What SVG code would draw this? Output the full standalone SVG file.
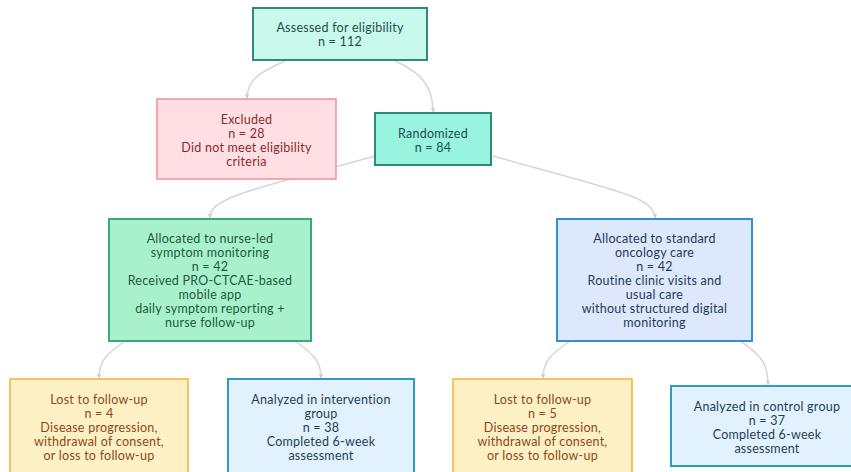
<svg xmlns="http://www.w3.org/2000/svg" width="851" height="472" viewBox="0 0 851 472">
<style>
text{font-family:"Lato","Open Sans","DejaVu Sans",sans-serif;font-size:12.5px;letter-spacing:0.25px;text-anchor:middle}
.e{fill:none;stroke:#d6d6d6;stroke-width:1.5;marker-end:url(#ah)}
.teal rect{fill:#c9f9ec;stroke:#2e8b7c;stroke-width:2}
.teal text{fill:#1f4f4a}
.rand rect{fill:#98f3df;stroke:#2e8b7c;stroke-width:2}
.rand text{fill:#1f4f4a}
.excl rect{fill:#ffdfe3;stroke:#f0909a;stroke-width:1.5}
.excl text{fill:#8b2c2c}
.nurse rect{fill:#a9f1cd;stroke:#3aaa78;stroke-width:2}
.nurse text{fill:#1e5a3c}
.std rect{fill:#dde8fc;stroke:#2f90d8;stroke-width:2}
.std text{fill:#1f3a5a}
.lost rect{fill:#fdf0c4;stroke:#f5b236;stroke-width:1.5}
.lost text{fill:#8a4a1c}
.an rect{fill:#e1f1fd;stroke:#2e9cbc;stroke-width:2}
.an text{fill:#1f3f55}
</style>
<defs>
<marker id="ah" viewBox="0 0 10 10" refX="9" refY="5" markerWidth="5" markerHeight="5" orient="auto-start-reverse" markerUnits="userSpaceOnUse">
<path d="M0,0 L10,5 L0,10 z" fill="#d0d0d0"/>
</marker>
</defs>
<g id="connectors">
<path class="e" d="M285,61 C260,72 247,80 247,98"/>
<path class="e" d="M395,61 C420,72 433,85 433,112"/>
<path class="e" d="M375,156 C320,172 260,185 230,198 C215,205 210,210 210,218"/>
<path class="e" d="M493,156 C560,175 620,190 640,200 C652,207 655,212 655,218"/>
<path class="e" d="M125,341 C105,355 99,362 99,378"/>
<path class="e" d="M295,341 C315,355 321,362 321,378"/>
<path class="e" d="M570,341 C550,355 543,362 543,378"/>
<path class="e" d="M740,341 C762,355 768,365 768,385"/>
</g>
<g id="assessed" class="teal">
<rect x="253" y="8" width="174" height="52"/>
<text x="340" y="32">Assessed for eligibility</text>
<text x="340" y="46">n = 112</text>
</g>
<g id="excluded" class="excl">
<rect x="157" y="99" width="179" height="80"/>
<text x="246.5" y="124">Excluded</text>
<text x="246.5" y="138">n = 28</text>
<text x="246.5" y="152">Did not meet eligibility</text>
<text x="246.5" y="166">criteria</text>
</g>
<g id="randomized" class="rand">
<rect x="375" y="113" width="116" height="52"/>
<text x="433" y="138">Randomized</text>
<text x="433" y="152">n = 84</text>
</g>
<g id="nurse" class="nurse">
<rect x="109" y="219" width="202" height="122"/>
<text x="210" y="243">Allocated to nurse-led</text>
<text x="210" y="257">symptom monitoring</text>
<text x="210" y="271">n = 42</text>
<text x="210" y="285">Received PRO-CTCAE-based</text>
<text x="210" y="299">mobile app</text>
<text x="210" y="313">daily symptom reporting +</text>
<text x="210" y="327">nurse follow-up</text>
</g>
<g id="standard" class="std">
<rect x="557" y="219" width="195" height="122"/>
<text x="654.5" y="243">Allocated to standard</text>
<text x="654.5" y="257">oncology care</text>
<text x="654.5" y="271">n = 42</text>
<text x="654.5" y="285">Routine clinic visits and</text>
<text x="654.5" y="299">usual care</text>
<text x="654.5" y="313">without structured digital</text>
<text x="654.5" y="327">monitoring</text>
</g>
<g id="lost1" class="lost">
<rect x="10" y="379" width="178" height="110"/>
<text x="99" y="404">Lost to follow-up</text>
<text x="99" y="418">n = 4</text>
<text x="99" y="432">Disease progression,</text>
<text x="99" y="446">withdrawal of consent,</text>
<text x="99" y="460">or loss to follow-up</text>
</g>
<g id="analyzed1" class="an">
<rect x="228" y="379" width="186" height="110"/>
<text x="321" y="404">Analyzed in intervention</text>
<text x="321" y="418">group</text>
<text x="321" y="432">n = 38</text>
<text x="321" y="446">Completed 6-week</text>
<text x="321" y="460">assessment</text>
</g>
<g id="lost2" class="lost">
<rect x="453" y="379" width="179" height="110"/>
<text x="542.5" y="404">Lost to follow-up</text>
<text x="542.5" y="418">n = 5</text>
<text x="542.5" y="432">Disease progression,</text>
<text x="542.5" y="446">withdrawal of consent,</text>
<text x="542.5" y="460">or loss to follow-up</text>
</g>
<g id="analyzed2" class="an">
<rect x="671" y="386" width="182" height="80"/>
<text x="767" y="411">Analyzed in control group</text>
<text x="767" y="425">n = 37</text>
<text x="767" y="439">Completed 6-week</text>
<text x="767" y="453">assessment</text>
</g>
</svg>
